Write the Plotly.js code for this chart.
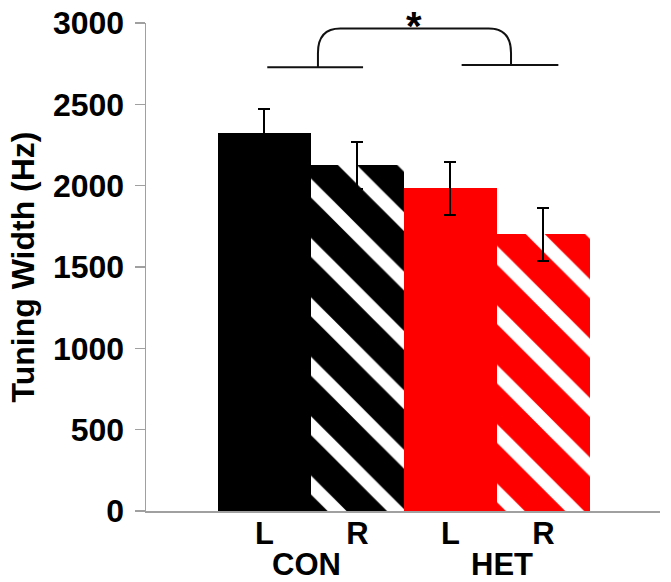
<!DOCTYPE html>
<html>
<head>
<meta charset="utf-8">
<script src="https://cdn.plot.ly/plotly-3.0.1.min.js"></script>
<style>html,body{margin:0;padding:0;background:#fff;}#chart{width:671px;height:582px;}</style>
</head>
<body>
<div id="chart"></div>
<script>
// Data
const positions = [1, 2, 3, 4];
const sideLabels = ["L", "R", "L", "R"];
const groupLabels = ["CON", "HET"];
const groupCenters = [1.5, 3.5];
const tuningWidth = [2325, 2125, 1985, 1700];
const tuningErr = [145, 145, 163, 162];
const barColors = ["#000000", "#000000", "#ff0000", "#ff0000"];
const barPatterns = ["", "\\", "", "\\"];
const yTicks = [0, 500, 1000, 1500, 2000, 2500, 3000];

const FONT = "Arial, 'Liberation Sans', sans-serif";
const AXIS_GREY = "#a0a0a0";

const trace = {
  type: "bar",
  x: positions,
  y: tuningWidth,
  width: 1,
  marker: {
    color: barColors,
    line: {width: 0},
    pattern: {
      shape: barPatterns,
      fgcolor: "#ffffff",
      fgopacity: 1,
      fillmode: "overlay",
      size: 42,
      solidity: 0.32
    }
  },
  error_y: {
    type: "data",
    array: tuningErr,
    visible: true,
    color: "#000000",
    thickness: 2,
    width: 6
  },
  hoverinfo: "none",
  showlegend: false
};

// significance bracket geometry (data units)
const leftLine = {x0: 1.03, x1: 2.06, y: 2728};
const rightLine = {x0: 3.12, x1: 4.16, y: 2742};
const br = {xl: 1.575, xr: 3.651, top: 2966, rx: 0.24, ry: 150};
const bracketPath =
  "M " + br.xl + "," + leftLine.y +
  " L " + br.xl + "," + (br.top - br.ry) +
  " Q " + br.xl + "," + br.top + " " + (br.xl + br.rx) + "," + br.top +
  " L " + (br.xr - br.rx) + "," + br.top +
  " Q " + br.xr + "," + br.top + " " + br.xr + "," + (br.top - br.ry) +
  " L " + br.xr + "," + rightLine.y;

const layout = {
  width: 671,
  height: 582,
  margin: {l: 146, r: 11, t: 23, b: 71, pad: 0},
  paper_bgcolor: "#ffffff",
  plot_bgcolor: "#ffffff",
  font: {family: FONT, color: "#000000"},
  bargap: 0,
  xaxis: {
    range: [-0.274, 5.253],
    tickvals: positions,
    ticktext: sideLabels,
    ticks: "",
    showgrid: false,
    zeroline: false,
    showline: true,
    linecolor: AXIS_GREY,
    linewidth: 1.5,
    tickfont: {family: FONT, size: 31, color: "#000000", weight: "bold"},
    ticklabelstandoff: -6,
    fixedrange: true
  },
  yaxis: {
    range: [0, 3000],
    tickvals: yTicks,
    ticktext: yTicks.map(String),
    ticks: "outside",
    ticklen: 10,
    tickwidth: 1.5,
    tickcolor: AXIS_GREY,
    showgrid: false,
    zeroline: false,
    showline: true,
    linecolor: AXIS_GREY,
    linewidth: 1.5,
    tickfont: {family: FONT, size: 32, color: "#000000", weight: "bold"},
    ticklabelstandoff: 4,
    title: {text: "Tuning Width (Hz)", font: {family: FONT, size: 32, weight: "bold", color: "#000000"}, standoff: 8},
    automargin: false,
    fixedrange: true
  },
  shapes: [
    {type: "line", xref: "x", yref: "y", x0: leftLine.x0, x1: leftLine.x1, y0: leftLine.y, y1: leftLine.y, line: {color: "#111", width: 2}},
    {type: "line", xref: "x", yref: "y", x0: rightLine.x0, x1: rightLine.x1, y0: rightLine.y, y1: rightLine.y, line: {color: "#111", width: 2}},
    {type: "path", xref: "x", yref: "y", path: bracketPath, line: {color: "#111", width: 2}}
  ],
  annotations: [
    {text: "<b>" + groupLabels[0] + "</b>", xref: "x", yref: "paper", x: groupCenters[0], y: 0, xshift: -4, yshift: -53, yanchor: "middle", showarrow: false, font: {family: FONT, size: 31, color: "#000"}},
    {text: "<b>" + groupLabels[1] + "</b>", xref: "x", yref: "paper", x: groupCenters[1], y: 0, xshift: 5, yshift: -53, yanchor: "middle", showarrow: false, font: {family: FONT, size: 31, color: "#000"}},
    {text: "<b>*</b>", xref: "x", yref: "paper", x: (br.xl + br.xr) / 2, y: 1, yanchor: "middle", yshift: -3, showarrow: false, font: {family: FONT, size: 40, color: "#000"}}
  ]
};

Plotly.newPlot("chart", [trace], layout, {displayModeBar: false, staticPlot: true});
</script>
</body>
</html>
